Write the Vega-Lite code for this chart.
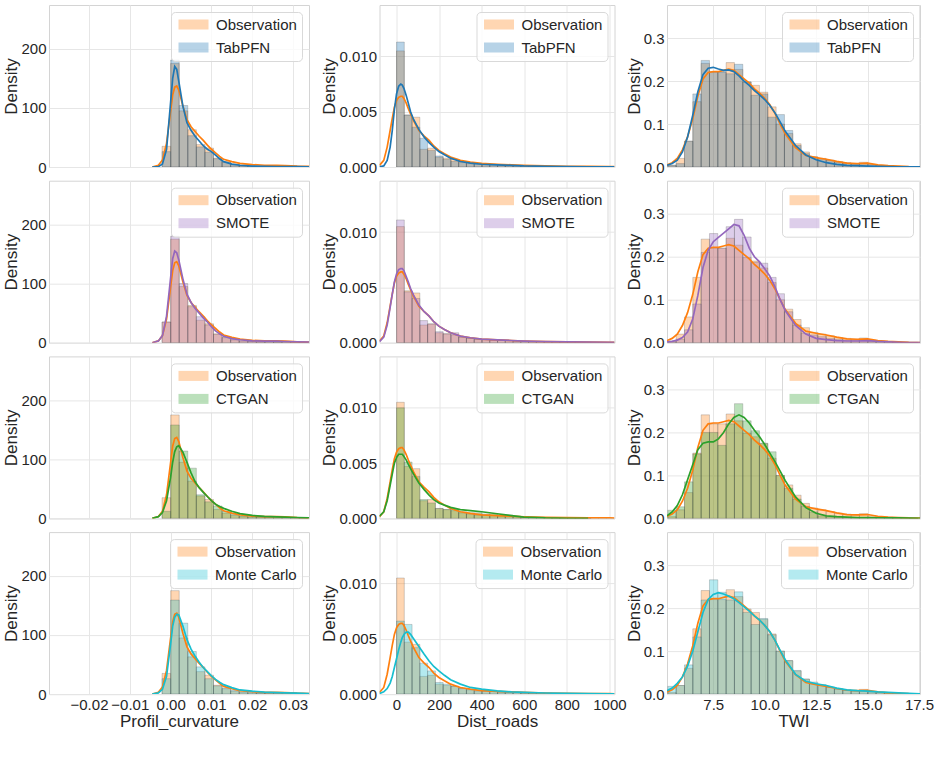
{
  "$schema": "https://vega.github.io/schema/vega-lite/v6.json",
  "padding": {"left": 2, "top": 4, "right": 0, "bottom": 0},
  "background": "white",
  "datasets": {
    "bins": [
      {"v":"curv","s":"Observation","a":-0.0021,"b":0,"d":35},
      {"v":"curv","s":"Observation","a":0,"b":0.0021,"d":175},
      {"v":"curv","s":"Observation","a":0.0021,"b":0.0042,"d":95},
      {"v":"curv","s":"Observation","a":0.0042,"b":0.0063,"d":63},
      {"v":"curv","s":"Observation","a":0.0063,"b":0.0084,"d":38},
      {"v":"curv","s":"Observation","a":0.0084,"b":0.0105,"d":32},
      {"v":"curv","s":"Observation","a":0.0105,"b":0.0126,"d":15},
      {"v":"curv","s":"Observation","a":0.0126,"b":0.0147,"d":9},
      {"v":"curv","s":"Observation","a":0.0147,"b":0.0168,"d":5},
      {"v":"curv","s":"Observation","a":0.0168,"b":0.0189,"d":3},
      {"v":"curv","s":"Observation","a":0.0189,"b":0.021,"d":2},
      {"v":"curv","s":"Observation","a":0.021,"b":0.0231,"d":1.5},
      {"v":"curv","s":"Observation","a":0.0231,"b":0.0252,"d":1.5},
      {"v":"curv","s":"Observation","a":0.0252,"b":0.0273,"d":1},
      {"v":"curv","s":"Observation","a":0.0273,"b":0.0294,"d":1.5},
      {"v":"curv","s":"Observation","a":0.0294,"b":0.0315,"d":1},
      {"v":"curv","s":"Observation","a":0.0315,"b":0.0336,"d":0.5},
      {"v":"curv","s":"TabPFN","a":-0.0021,"b":0,"d":26},
      {"v":"curv","s":"TabPFN","a":0,"b":0.0021,"d":181},
      {"v":"curv","s":"TabPFN","a":0.0021,"b":0.0042,"d":104},
      {"v":"curv","s":"TabPFN","a":0.0042,"b":0.0063,"d":53},
      {"v":"curv","s":"TabPFN","a":0.0063,"b":0.0084,"d":34},
      {"v":"curv","s":"TabPFN","a":0.0084,"b":0.0105,"d":25},
      {"v":"curv","s":"TabPFN","a":0.0105,"b":0.0126,"d":14},
      {"v":"curv","s":"TabPFN","a":0.0126,"b":0.0147,"d":8},
      {"v":"curv","s":"TabPFN","a":0.0147,"b":0.0168,"d":4},
      {"v":"curv","s":"TabPFN","a":0.0168,"b":0.0189,"d":2},
      {"v":"curv","s":"TabPFN","a":0.0189,"b":0.021,"d":1},
      {"v":"curv","s":"TabPFN","a":0.021,"b":0.0231,"d":0.5},
      {"v":"curv","s":"TabPFN","a":0.0231,"b":0.0252,"d":0.3},
      {"v":"curv","s":"TabPFN","a":0.0252,"b":0.0273,"d":0.2},
      {"v":"curv","s":"TabPFN","a":0.0273,"b":0.0294,"d":0.2},
      {"v":"curv","s":"TabPFN","a":0.0294,"b":0.0315,"d":0.1},
      {"v":"curv","s":"TabPFN","a":0.0315,"b":0.0336,"d":0.1},
      {"v":"curv","s":"SMOTE","a":-0.0021,"b":0,"d":35},
      {"v":"curv","s":"SMOTE","a":0,"b":0.0021,"d":180},
      {"v":"curv","s":"SMOTE","a":0.0021,"b":0.0042,"d":100},
      {"v":"curv","s":"SMOTE","a":0.0042,"b":0.0063,"d":61},
      {"v":"curv","s":"SMOTE","a":0.0063,"b":0.0084,"d":44},
      {"v":"curv","s":"SMOTE","a":0.0084,"b":0.0105,"d":30},
      {"v":"curv","s":"SMOTE","a":0.0105,"b":0.0126,"d":14},
      {"v":"curv","s":"SMOTE","a":0.0126,"b":0.0147,"d":8.5},
      {"v":"curv","s":"SMOTE","a":0.0147,"b":0.0168,"d":5},
      {"v":"curv","s":"SMOTE","a":0.0168,"b":0.0189,"d":3},
      {"v":"curv","s":"SMOTE","a":0.0189,"b":0.021,"d":2},
      {"v":"curv","s":"SMOTE","a":0.021,"b":0.0231,"d":1.5},
      {"v":"curv","s":"SMOTE","a":0.0231,"b":0.0252,"d":1.5},
      {"v":"curv","s":"SMOTE","a":0.0252,"b":0.0273,"d":1},
      {"v":"curv","s":"SMOTE","a":0.0273,"b":0.0294,"d":1.5},
      {"v":"curv","s":"SMOTE","a":0.0294,"b":0.0315,"d":1},
      {"v":"curv","s":"SMOTE","a":0.0315,"b":0.0336,"d":0.5},
      {"v":"curv","s":"CTGAN","a":-0.0021,"b":0,"d":12},
      {"v":"curv","s":"CTGAN","a":0,"b":0.0021,"d":158},
      {"v":"curv","s":"CTGAN","a":0.0021,"b":0.0042,"d":114},
      {"v":"curv","s":"CTGAN","a":0.0042,"b":0.0063,"d":85},
      {"v":"curv","s":"CTGAN","a":0.0063,"b":0.0084,"d":40},
      {"v":"curv","s":"CTGAN","a":0.0084,"b":0.0105,"d":28},
      {"v":"curv","s":"CTGAN","a":0.0105,"b":0.0126,"d":21},
      {"v":"curv","s":"CTGAN","a":0.0126,"b":0.0147,"d":12},
      {"v":"curv","s":"CTGAN","a":0.0147,"b":0.0168,"d":7},
      {"v":"curv","s":"CTGAN","a":0.0168,"b":0.0189,"d":4},
      {"v":"curv","s":"CTGAN","a":0.0189,"b":0.021,"d":3},
      {"v":"curv","s":"CTGAN","a":0.021,"b":0.0231,"d":2.5},
      {"v":"curv","s":"CTGAN","a":0.0231,"b":0.0252,"d":2},
      {"v":"curv","s":"CTGAN","a":0.0252,"b":0.0273,"d":1.5},
      {"v":"curv","s":"CTGAN","a":0.0273,"b":0.0294,"d":1},
      {"v":"curv","s":"CTGAN","a":0.0294,"b":0.0315,"d":1},
      {"v":"curv","s":"CTGAN","a":0.0315,"b":0.0336,"d":0.5},
      {"v":"curv","s":"Monte Carlo","a":-0.0021,"b":0,"d":26},
      {"v":"curv","s":"Monte Carlo","a":0,"b":0.0021,"d":159},
      {"v":"curv","s":"Monte Carlo","a":0.0021,"b":0.0042,"d":120},
      {"v":"curv","s":"Monte Carlo","a":0.0042,"b":0.0063,"d":72},
      {"v":"curv","s":"Monte Carlo","a":0.0063,"b":0.0084,"d":46},
      {"v":"curv","s":"Monte Carlo","a":0.0084,"b":0.0105,"d":26},
      {"v":"curv","s":"Monte Carlo","a":0.0105,"b":0.0126,"d":14},
      {"v":"curv","s":"Monte Carlo","a":0.0126,"b":0.0147,"d":10},
      {"v":"curv","s":"Monte Carlo","a":0.0147,"b":0.0168,"d":6},
      {"v":"curv","s":"Monte Carlo","a":0.0168,"b":0.0189,"d":4},
      {"v":"curv","s":"Monte Carlo","a":0.0189,"b":0.021,"d":3},
      {"v":"curv","s":"Monte Carlo","a":0.021,"b":0.0231,"d":2},
      {"v":"curv","s":"Monte Carlo","a":0.0231,"b":0.0252,"d":1.5},
      {"v":"curv","s":"Monte Carlo","a":0.0252,"b":0.0273,"d":1},
      {"v":"curv","s":"Monte Carlo","a":0.0273,"b":0.0294,"d":1},
      {"v":"curv","s":"Monte Carlo","a":0.0294,"b":0.0315,"d":1},
      {"v":"curv","s":"Monte Carlo","a":0.0315,"b":0.0336,"d":0.5},

      {"v":"road","s":"Observation","a":0,"b":36.5,"d":0.0105},
      {"v":"road","s":"Observation","a":36.5,"b":73,"d":0.0047},
      {"v":"road","s":"Observation","a":73,"b":109.5,"d":0.0045},
      {"v":"road","s":"Observation","a":109.5,"b":146,"d":0.0016},
      {"v":"road","s":"Observation","a":146,"b":182.5,"d":0.0017},
      {"v":"road","s":"Observation","a":182.5,"b":219,"d":0.0009},
      {"v":"road","s":"Observation","a":219,"b":255.5,"d":0.0008},
      {"v":"road","s":"Observation","a":255.5,"b":292,"d":0.0007},
      {"v":"road","s":"Observation","a":292,"b":328.5,"d":0.0005},
      {"v":"road","s":"Observation","a":328.5,"b":365,"d":0.0004},
      {"v":"road","s":"Observation","a":365,"b":401.5,"d":0.0003},
      {"v":"road","s":"Observation","a":401.5,"b":438,"d":0.0003},
      {"v":"road","s":"Observation","a":438,"b":474.5,"d":0.00025},
      {"v":"road","s":"Observation","a":474.5,"b":511,"d":0.0002},
      {"v":"road","s":"Observation","a":511,"b":547.5,"d":0.0002},
      {"v":"road","s":"Observation","a":547.5,"b":584,"d":0.00015},
      {"v":"road","s":"Observation","a":584,"b":620.5,"d":0.00012},
      {"v":"road","s":"Observation","a":620.5,"b":657,"d":0.0001},
      {"v":"road","s":"Observation","a":657,"b":693.5,"d":0.0001},
      {"v":"road","s":"Observation","a":693.5,"b":730,"d":0.00008},
      {"v":"road","s":"Observation","a":730,"b":766.5,"d":0.00006},
      {"v":"road","s":"Observation","a":766.5,"b":803,"d":0.00005},
      {"v":"road","s":"Observation","a":803,"b":839.5,"d":0.00004},
      {"v":"road","s":"Observation","a":839.5,"b":876,"d":0.00004},
      {"v":"road","s":"Observation","a":876,"b":912.5,"d":0.00003},
      {"v":"road","s":"Observation","a":912.5,"b":949,"d":0.00003},
      {"v":"road","s":"Observation","a":949,"b":985.5,"d":0.00002},
      {"v":"road","s":"Observation","a":985.5,"b":1022,"d":0.00002},
      {"v":"road","s":"TabPFN","a":0,"b":36.5,"d":0.0113},
      {"v":"road","s":"TabPFN","a":36.5,"b":73,"d":0.0047},
      {"v":"road","s":"TabPFN","a":73,"b":109.5,"d":0.0036},
      {"v":"road","s":"TabPFN","a":109.5,"b":146,"d":0.0026},
      {"v":"road","s":"TabPFN","a":146,"b":182.5,"d":0.0015},
      {"v":"road","s":"TabPFN","a":182.5,"b":219,"d":0.001},
      {"v":"road","s":"TabPFN","a":219,"b":255.5,"d":0.0007},
      {"v":"road","s":"TabPFN","a":255.5,"b":292,"d":0.0005},
      {"v":"road","s":"TabPFN","a":292,"b":328.5,"d":0.0004},
      {"v":"road","s":"TabPFN","a":328.5,"b":365,"d":0.0003},
      {"v":"road","s":"TabPFN","a":365,"b":401.5,"d":0.0003},
      {"v":"road","s":"TabPFN","a":401.5,"b":438,"d":0.00025},
      {"v":"road","s":"TabPFN","a":438,"b":474.5,"d":0.0002},
      {"v":"road","s":"TabPFN","a":474.5,"b":511,"d":0.00015},
      {"v":"road","s":"TabPFN","a":511,"b":547.5,"d":0.00012},
      {"v":"road","s":"TabPFN","a":547.5,"b":584,"d":0.0001},
      {"v":"road","s":"TabPFN","a":584,"b":620.5,"d":0.00008},
      {"v":"road","s":"TabPFN","a":620.5,"b":657,"d":0.00006},
      {"v":"road","s":"TabPFN","a":657,"b":693.5,"d":0.00005},
      {"v":"road","s":"TabPFN","a":693.5,"b":730,"d":0.00004},
      {"v":"road","s":"TabPFN","a":730,"b":766.5,"d":0.00003},
      {"v":"road","s":"TabPFN","a":766.5,"b":803,"d":0.00002},
      {"v":"road","s":"TabPFN","a":803,"b":839.5,"d":0.00002},
      {"v":"road","s":"TabPFN","a":839.5,"b":876,"d":0.00001},
      {"v":"road","s":"TabPFN","a":876,"b":912.5,"d":0.00001},
      {"v":"road","s":"TabPFN","a":912.5,"b":949,"d":0.00001},
      {"v":"road","s":"TabPFN","a":949,"b":985.5,"d":0.00001},
      {"v":"road","s":"SMOTE","a":0,"b":36.5,"d":0.0111},
      {"v":"road","s":"SMOTE","a":36.5,"b":73,"d":0.0046},
      {"v":"road","s":"SMOTE","a":73,"b":109.5,"d":0.004},
      {"v":"road","s":"SMOTE","a":109.5,"b":146,"d":0.002},
      {"v":"road","s":"SMOTE","a":146,"b":182.5,"d":0.0017},
      {"v":"road","s":"SMOTE","a":182.5,"b":219,"d":0.001},
      {"v":"road","s":"SMOTE","a":219,"b":255.5,"d":0.0008},
      {"v":"road","s":"SMOTE","a":255.5,"b":292,"d":0.0009},
      {"v":"road","s":"SMOTE","a":292,"b":328.5,"d":0.0005},
      {"v":"road","s":"SMOTE","a":328.5,"b":365,"d":0.0004},
      {"v":"road","s":"SMOTE","a":365,"b":401.5,"d":0.0003},
      {"v":"road","s":"SMOTE","a":401.5,"b":438,"d":0.0003},
      {"v":"road","s":"SMOTE","a":438,"b":474.5,"d":0.00025},
      {"v":"road","s":"SMOTE","a":474.5,"b":511,"d":0.0002},
      {"v":"road","s":"SMOTE","a":511,"b":547.5,"d":0.0002},
      {"v":"road","s":"SMOTE","a":547.5,"b":584,"d":0.00015},
      {"v":"road","s":"SMOTE","a":584,"b":620.5,"d":0.00012},
      {"v":"road","s":"SMOTE","a":620.5,"b":657,"d":0.0001},
      {"v":"road","s":"SMOTE","a":657,"b":693.5,"d":0.0001},
      {"v":"road","s":"SMOTE","a":693.5,"b":730,"d":0.00008},
      {"v":"road","s":"SMOTE","a":730,"b":766.5,"d":0.00006},
      {"v":"road","s":"SMOTE","a":766.5,"b":803,"d":0.00005},
      {"v":"road","s":"SMOTE","a":803,"b":839.5,"d":0.00004},
      {"v":"road","s":"SMOTE","a":839.5,"b":876,"d":0.00003},
      {"v":"road","s":"SMOTE","a":876,"b":912.5,"d":0.00003},
      {"v":"road","s":"SMOTE","a":912.5,"b":949,"d":0.00002},
      {"v":"road","s":"SMOTE","a":949,"b":985.5,"d":0.00002},
      {"v":"road","s":"SMOTE","a":985.5,"b":1022,"d":0.00001},
      {"v":"road","s":"CTGAN","a":0,"b":36.5,"d":0.01},
      {"v":"road","s":"CTGAN","a":36.5,"b":73,"d":0.0051},
      {"v":"road","s":"CTGAN","a":73,"b":109.5,"d":0.0038},
      {"v":"road","s":"CTGAN","a":109.5,"b":146,"d":0.0017},
      {"v":"road","s":"CTGAN","a":146,"b":182.5,"d":0.0014},
      {"v":"road","s":"CTGAN","a":182.5,"b":219,"d":0.0009},
      {"v":"road","s":"CTGAN","a":219,"b":255.5,"d":0.0008},
      {"v":"road","s":"CTGAN","a":255.5,"b":292,"d":0.0008},
      {"v":"road","s":"CTGAN","a":292,"b":328.5,"d":0.0006},
      {"v":"road","s":"CTGAN","a":328.5,"b":365,"d":0.0005},
      {"v":"road","s":"CTGAN","a":365,"b":401.5,"d":0.0005},
      {"v":"road","s":"CTGAN","a":401.5,"b":438,"d":0.0004},
      {"v":"road","s":"CTGAN","a":438,"b":474.5,"d":0.0004},
      {"v":"road","s":"CTGAN","a":474.5,"b":511,"d":0.0003},
      {"v":"road","s":"CTGAN","a":511,"b":547.5,"d":0.0003},
      {"v":"road","s":"CTGAN","a":547.5,"b":584,"d":0.0002},
      {"v":"road","s":"CTGAN","a":584,"b":620.5,"d":0.00015},
      {"v":"road","s":"CTGAN","a":620.5,"b":657,"d":0.0001},
      {"v":"road","s":"CTGAN","a":657,"b":693.5,"d":0.00008},
      {"v":"road","s":"CTGAN","a":693.5,"b":730,"d":0.00006},
      {"v":"road","s":"CTGAN","a":730,"b":766.5,"d":0.00004},
      {"v":"road","s":"CTGAN","a":766.5,"b":803,"d":0.00003},
      {"v":"road","s":"CTGAN","a":803,"b":839.5,"d":0.00002},
      {"v":"road","s":"CTGAN","a":839.5,"b":876,"d":0.00001},
      {"v":"road","s":"CTGAN","a":876,"b":912.5,"d":0.00001},
      {"v":"road","s":"Monte Carlo","a":0,"b":36.5,"d":0.0066},
      {"v":"road","s":"Monte Carlo","a":36.5,"b":73,"d":0.0063},
      {"v":"road","s":"Monte Carlo","a":73,"b":109.5,"d":0.0042},
      {"v":"road","s":"Monte Carlo","a":109.5,"b":146,"d":0.0028},
      {"v":"road","s":"Monte Carlo","a":146,"b":182.5,"d":0.0021},
      {"v":"road","s":"Monte Carlo","a":182.5,"b":219,"d":0.00105},
      {"v":"road","s":"Monte Carlo","a":219,"b":255.5,"d":0.0009},
      {"v":"road","s":"Monte Carlo","a":255.5,"b":292,"d":0.0007},
      {"v":"road","s":"Monte Carlo","a":292,"b":328.5,"d":0.0005},
      {"v":"road","s":"Monte Carlo","a":328.5,"b":365,"d":0.0004},
      {"v":"road","s":"Monte Carlo","a":365,"b":401.5,"d":0.0003},
      {"v":"road","s":"Monte Carlo","a":401.5,"b":438,"d":0.00028},
      {"v":"road","s":"Monte Carlo","a":438,"b":474.5,"d":0.00025},
      {"v":"road","s":"Monte Carlo","a":474.5,"b":511,"d":0.0002},
      {"v":"road","s":"Monte Carlo","a":511,"b":547.5,"d":0.00017},
      {"v":"road","s":"Monte Carlo","a":547.5,"b":584,"d":0.00015},
      {"v":"road","s":"Monte Carlo","a":584,"b":620.5,"d":0.00012},
      {"v":"road","s":"Monte Carlo","a":620.5,"b":657,"d":0.0001},
      {"v":"road","s":"Monte Carlo","a":657,"b":693.5,"d":0.00008},
      {"v":"road","s":"Monte Carlo","a":693.5,"b":730,"d":0.00007},
      {"v":"road","s":"Monte Carlo","a":730,"b":766.5,"d":0.00006},
      {"v":"road","s":"Monte Carlo","a":766.5,"b":803,"d":0.00005},
      {"v":"road","s":"Monte Carlo","a":803,"b":839.5,"d":0.00004},
      {"v":"road","s":"Monte Carlo","a":839.5,"b":876,"d":0.00003},
      {"v":"road","s":"Monte Carlo","a":876,"b":912.5,"d":0.00003},
      {"v":"road","s":"Monte Carlo","a":912.5,"b":949,"d":0.00002},
      {"v":"road","s":"Monte Carlo","a":949,"b":985.5,"d":0.00002},
      {"v":"road","s":"Monte Carlo","a":985.5,"b":1022,"d":0.00001},

      {"v":"twi","s":"Observation","a":5.29,"b":5.695,"d":0.004},
      {"v":"twi","s":"Observation","a":5.695,"b":6.1,"d":0.02},
      {"v":"twi","s":"Observation","a":6.1,"b":6.505,"d":0.06},
      {"v":"twi","s":"Observation","a":6.505,"b":6.91,"d":0.152},
      {"v":"twi","s":"Observation","a":6.91,"b":7.315,"d":0.241},
      {"v":"twi","s":"Observation","a":7.315,"b":7.72,"d":0.22},
      {"v":"twi","s":"Observation","a":7.72,"b":8.125,"d":0.22},
      {"v":"twi","s":"Observation","a":8.125,"b":8.53,"d":0.243},
      {"v":"twi","s":"Observation","a":8.53,"b":8.935,"d":0.227},
      {"v":"twi","s":"Observation","a":8.935,"b":9.34,"d":0.198},
      {"v":"twi","s":"Observation","a":9.34,"b":9.745,"d":0.19},
      {"v":"twi","s":"Observation","a":9.745,"b":10.15,"d":0.174},
      {"v":"twi","s":"Observation","a":10.15,"b":10.555,"d":0.14},
      {"v":"twi","s":"Observation","a":10.555,"b":10.96,"d":0.1},
      {"v":"twi","s":"Observation","a":10.96,"b":11.365,"d":0.078},
      {"v":"twi","s":"Observation","a":11.365,"b":11.77,"d":0.054},
      {"v":"twi","s":"Observation","a":11.77,"b":12.175,"d":0.035},
      {"v":"twi","s":"Observation","a":12.175,"b":12.58,"d":0.024},
      {"v":"twi","s":"Observation","a":12.58,"b":12.985,"d":0.02},
      {"v":"twi","s":"Observation","a":12.985,"b":13.39,"d":0.016},
      {"v":"twi","s":"Observation","a":13.39,"b":13.795,"d":0.012},
      {"v":"twi","s":"Observation","a":13.795,"b":14.2,"d":0.01},
      {"v":"twi","s":"Observation","a":14.2,"b":14.605,"d":0.008},
      {"v":"twi","s":"Observation","a":14.605,"b":15.01,"d":0.011},
      {"v":"twi","s":"Observation","a":15.01,"b":15.415,"d":0.006},
      {"v":"twi","s":"Observation","a":15.415,"b":15.82,"d":0.004},
      {"v":"twi","s":"Observation","a":15.82,"b":16.225,"d":0.003},
      {"v":"twi","s":"Observation","a":16.225,"b":16.63,"d":0.002},
      {"v":"twi","s":"Observation","a":16.63,"b":17.035,"d":0.0015},
      {"v":"twi","s":"Observation","a":17.035,"b":17.44,"d":0.001},
      {"v":"twi","s":"TabPFN","a":5.29,"b":5.695,"d":0.004},
      {"v":"twi","s":"TabPFN","a":5.695,"b":6.1,"d":0.008},
      {"v":"twi","s":"TabPFN","a":6.1,"b":6.505,"d":0.06},
      {"v":"twi","s":"TabPFN","a":6.505,"b":6.91,"d":0.17},
      {"v":"twi","s":"TabPFN","a":6.91,"b":7.315,"d":0.248},
      {"v":"twi","s":"TabPFN","a":7.315,"b":7.72,"d":0.222},
      {"v":"twi","s":"TabPFN","a":7.72,"b":8.125,"d":0.222},
      {"v":"twi","s":"TabPFN","a":8.125,"b":8.53,"d":0.217},
      {"v":"twi","s":"TabPFN","a":8.53,"b":8.935,"d":0.239},
      {"v":"twi","s":"TabPFN","a":8.935,"b":9.34,"d":0.198},
      {"v":"twi","s":"TabPFN","a":9.34,"b":9.745,"d":0.167},
      {"v":"twi","s":"TabPFN","a":9.745,"b":10.15,"d":0.17},
      {"v":"twi","s":"TabPFN","a":10.15,"b":10.555,"d":0.116},
      {"v":"twi","s":"TabPFN","a":10.555,"b":10.96,"d":0.122},
      {"v":"twi","s":"TabPFN","a":10.96,"b":11.365,"d":0.085},
      {"v":"twi","s":"TabPFN","a":11.365,"b":11.77,"d":0.05},
      {"v":"twi","s":"TabPFN","a":11.77,"b":12.175,"d":0.031},
      {"v":"twi","s":"TabPFN","a":12.175,"b":12.58,"d":0.023},
      {"v":"twi","s":"TabPFN","a":12.58,"b":12.985,"d":0.018},
      {"v":"twi","s":"TabPFN","a":12.985,"b":13.39,"d":0.015},
      {"v":"twi","s":"TabPFN","a":13.39,"b":13.795,"d":0.012},
      {"v":"twi","s":"TabPFN","a":13.795,"b":14.2,"d":0.009},
      {"v":"twi","s":"TabPFN","a":14.2,"b":14.605,"d":0.007},
      {"v":"twi","s":"TabPFN","a":14.605,"b":15.01,"d":0.008},
      {"v":"twi","s":"TabPFN","a":15.01,"b":15.415,"d":0.005},
      {"v":"twi","s":"TabPFN","a":15.415,"b":15.82,"d":0.003},
      {"v":"twi","s":"TabPFN","a":15.82,"b":16.225,"d":0.002},
      {"v":"twi","s":"TabPFN","a":16.225,"b":16.63,"d":0.001},
      {"v":"twi","s":"TabPFN","a":16.63,"b":17.035,"d":0.0008},
      {"v":"twi","s":"TabPFN","a":17.035,"b":17.44,"d":0.0005},
      {"v":"twi","s":"SMOTE","a":5.29,"b":5.695,"d":0.002},
      {"v":"twi","s":"SMOTE","a":5.695,"b":6.1,"d":0.008},
      {"v":"twi","s":"SMOTE","a":6.1,"b":6.505,"d":0.03},
      {"v":"twi","s":"SMOTE","a":6.505,"b":6.91,"d":0.09},
      {"v":"twi","s":"SMOTE","a":6.91,"b":7.315,"d":0.21},
      {"v":"twi","s":"SMOTE","a":7.315,"b":7.72,"d":0.254},
      {"v":"twi","s":"SMOTE","a":7.72,"b":8.125,"d":0.22},
      {"v":"twi","s":"SMOTE","a":8.125,"b":8.53,"d":0.27},
      {"v":"twi","s":"SMOTE","a":8.53,"b":8.935,"d":0.287},
      {"v":"twi","s":"SMOTE","a":8.935,"b":9.34,"d":0.246},
      {"v":"twi","s":"SMOTE","a":9.34,"b":9.745,"d":0.187},
      {"v":"twi","s":"SMOTE","a":9.745,"b":10.15,"d":0.185},
      {"v":"twi","s":"SMOTE","a":10.15,"b":10.555,"d":0.152},
      {"v":"twi","s":"SMOTE","a":10.555,"b":10.96,"d":0.114},
      {"v":"twi","s":"SMOTE","a":10.96,"b":11.365,"d":0.072},
      {"v":"twi","s":"SMOTE","a":11.365,"b":11.77,"d":0.041},
      {"v":"twi","s":"SMOTE","a":11.77,"b":12.175,"d":0.022},
      {"v":"twi","s":"SMOTE","a":12.175,"b":12.58,"d":0.018},
      {"v":"twi","s":"SMOTE","a":12.58,"b":12.985,"d":0.014},
      {"v":"twi","s":"SMOTE","a":12.985,"b":13.39,"d":0.01},
      {"v":"twi","s":"SMOTE","a":13.39,"b":13.795,"d":0.008},
      {"v":"twi","s":"SMOTE","a":13.795,"b":14.2,"d":0.006},
      {"v":"twi","s":"SMOTE","a":14.2,"b":14.605,"d":0.005},
      {"v":"twi","s":"SMOTE","a":14.605,"b":15.01,"d":0.006},
      {"v":"twi","s":"SMOTE","a":15.01,"b":15.415,"d":0.003},
      {"v":"twi","s":"SMOTE","a":15.415,"b":15.82,"d":0.002},
      {"v":"twi","s":"SMOTE","a":15.82,"b":16.225,"d":0.001},
      {"v":"twi","s":"SMOTE","a":16.225,"b":16.63,"d":0.001},
      {"v":"twi","s":"SMOTE","a":16.63,"b":17.035,"d":0.0005},
      {"v":"twi","s":"SMOTE","a":17.035,"b":17.44,"d":0.0003},
      {"v":"twi","s":"CTGAN","a":5.29,"b":5.695,"d":0.019},
      {"v":"twi","s":"CTGAN","a":5.695,"b":6.1,"d":0.027},
      {"v":"twi","s":"CTGAN","a":6.1,"b":6.505,"d":0.085},
      {"v":"twi","s":"CTGAN","a":6.505,"b":6.91,"d":0.15},
      {"v":"twi","s":"CTGAN","a":6.91,"b":7.315,"d":0.2},
      {"v":"twi","s":"CTGAN","a":7.315,"b":7.72,"d":0.2},
      {"v":"twi","s":"CTGAN","a":7.72,"b":8.125,"d":0.17},
      {"v":"twi","s":"CTGAN","a":8.125,"b":8.53,"d":0.22},
      {"v":"twi","s":"CTGAN","a":8.53,"b":8.935,"d":0.267},
      {"v":"twi","s":"CTGAN","a":8.935,"b":9.34,"d":0.227},
      {"v":"twi","s":"CTGAN","a":9.34,"b":9.745,"d":0.204},
      {"v":"twi","s":"CTGAN","a":9.745,"b":10.15,"d":0.175},
      {"v":"twi","s":"CTGAN","a":10.15,"b":10.555,"d":0.155},
      {"v":"twi","s":"CTGAN","a":10.555,"b":10.96,"d":0.1},
      {"v":"twi","s":"CTGAN","a":10.96,"b":11.365,"d":0.07},
      {"v":"twi","s":"CTGAN","a":11.365,"b":11.77,"d":0.045},
      {"v":"twi","s":"CTGAN","a":11.77,"b":12.175,"d":0.028},
      {"v":"twi","s":"CTGAN","a":12.175,"b":12.58,"d":0.015},
      {"v":"twi","s":"CTGAN","a":12.58,"b":12.985,"d":0.006},
      {"v":"twi","s":"CTGAN","a":12.985,"b":13.39,"d":0.004},
      {"v":"twi","s":"CTGAN","a":13.39,"b":13.795,"d":0.003},
      {"v":"twi","s":"CTGAN","a":13.795,"b":14.2,"d":0.002},
      {"v":"twi","s":"CTGAN","a":14.2,"b":14.605,"d":0.002},
      {"v":"twi","s":"CTGAN","a":14.605,"b":15.01,"d":0.002},
      {"v":"twi","s":"CTGAN","a":15.01,"b":15.415,"d":0.002},
      {"v":"twi","s":"CTGAN","a":15.415,"b":15.82,"d":0.0015},
      {"v":"twi","s":"CTGAN","a":15.82,"b":16.225,"d":0.001},
      {"v":"twi","s":"CTGAN","a":16.225,"b":16.63,"d":0.001},
      {"v":"twi","s":"CTGAN","a":16.63,"b":17.035,"d":0.0005},
      {"v":"twi","s":"CTGAN","a":17.035,"b":17.44,"d":0.0003},
      {"v":"twi","s":"Monte Carlo","a":5.29,"b":5.695,"d":0.018},
      {"v":"twi","s":"Monte Carlo","a":5.695,"b":6.1,"d":0.02},
      {"v":"twi","s":"Monte Carlo","a":6.1,"b":6.505,"d":0.068},
      {"v":"twi","s":"Monte Carlo","a":6.505,"b":6.91,"d":0.133},
      {"v":"twi","s":"Monte Carlo","a":6.91,"b":7.315,"d":0.219},
      {"v":"twi","s":"Monte Carlo","a":7.315,"b":7.72,"d":0.266},
      {"v":"twi","s":"Monte Carlo","a":7.72,"b":8.125,"d":0.237},
      {"v":"twi","s":"Monte Carlo","a":8.125,"b":8.53,"d":0.219},
      {"v":"twi","s":"Monte Carlo","a":8.53,"b":8.935,"d":0.238},
      {"v":"twi","s":"Monte Carlo","a":8.935,"b":9.34,"d":0.19},
      {"v":"twi","s":"Monte Carlo","a":9.34,"b":9.745,"d":0.162},
      {"v":"twi","s":"Monte Carlo","a":9.745,"b":10.15,"d":0.176},
      {"v":"twi","s":"Monte Carlo","a":10.15,"b":10.555,"d":0.138},
      {"v":"twi","s":"Monte Carlo","a":10.555,"b":10.96,"d":0.1},
      {"v":"twi","s":"Monte Carlo","a":10.96,"b":11.365,"d":0.078},
      {"v":"twi","s":"Monte Carlo","a":11.365,"b":11.77,"d":0.055},
      {"v":"twi","s":"Monte Carlo","a":11.77,"b":12.175,"d":0.035},
      {"v":"twi","s":"Monte Carlo","a":12.175,"b":12.58,"d":0.028},
      {"v":"twi","s":"Monte Carlo","a":12.58,"b":12.985,"d":0.022},
      {"v":"twi","s":"Monte Carlo","a":12.985,"b":13.39,"d":0.016},
      {"v":"twi","s":"Monte Carlo","a":13.39,"b":13.795,"d":0.012},
      {"v":"twi","s":"Monte Carlo","a":13.795,"b":14.2,"d":0.009},
      {"v":"twi","s":"Monte Carlo","a":14.2,"b":14.605,"d":0.007},
      {"v":"twi","s":"Monte Carlo","a":14.605,"b":15.01,"d":0.006},
      {"v":"twi","s":"Monte Carlo","a":15.01,"b":15.415,"d":0.005},
      {"v":"twi","s":"Monte Carlo","a":15.415,"b":15.82,"d":0.004},
      {"v":"twi","s":"Monte Carlo","a":15.82,"b":16.225,"d":0.003},
      {"v":"twi","s":"Monte Carlo","a":16.225,"b":16.63,"d":0.002},
      {"v":"twi","s":"Monte Carlo","a":16.63,"b":17.035,"d":0.0015},
      {"v":"twi","s":"Monte Carlo","a":17.035,"b":17.44,"d":0.001}
    ],
    "kde": [
      {"v":"curv","s":"Observation","x":-0.0045,"d":0},
      {"v":"curv","s":"Observation","x":-0.003,"d":3},
      {"v":"curv","s":"Observation","x":-0.002,"d":12},
      {"v":"curv","s":"Observation","x":-0.001,"d":40},
      {"v":"curv","s":"Observation","x":0,"d":95},
      {"v":"curv","s":"Observation","x":0.0005,"d":122},
      {"v":"curv","s":"Observation","x":0.001,"d":135},
      {"v":"curv","s":"Observation","x":0.0015,"d":137},
      {"v":"curv","s":"Observation","x":0.002,"d":130},
      {"v":"curv","s":"Observation","x":0.003,"d":103},
      {"v":"curv","s":"Observation","x":0.004,"d":80},
      {"v":"curv","s":"Observation","x":0.005,"d":68},
      {"v":"curv","s":"Observation","x":0.006,"d":60},
      {"v":"curv","s":"Observation","x":0.007,"d":52},
      {"v":"curv","s":"Observation","x":0.008,"d":45},
      {"v":"curv","s":"Observation","x":0.009,"d":37},
      {"v":"curv","s":"Observation","x":0.01,"d":30},
      {"v":"curv","s":"Observation","x":0.011,"d":24},
      {"v":"curv","s":"Observation","x":0.012,"d":18},
      {"v":"curv","s":"Observation","x":0.013,"d":13},
      {"v":"curv","s":"Observation","x":0.015,"d":9},
      {"v":"curv","s":"Observation","x":0.017,"d":6},
      {"v":"curv","s":"Observation","x":0.02,"d":4},
      {"v":"curv","s":"Observation","x":0.023,"d":3},
      {"v":"curv","s":"Observation","x":0.026,"d":3},
      {"v":"curv","s":"Observation","x":0.028,"d":2.5},
      {"v":"curv","s":"Observation","x":0.031,"d":1.5},
      {"v":"curv","s":"Observation","x":0.034,"d":1},
      {"v":"curv","s":"TabPFN","x":-0.0045,"d":0},
      {"v":"curv","s":"TabPFN","x":-0.003,"d":0.5},
      {"v":"curv","s":"TabPFN","x":-0.002,"d":5},
      {"v":"curv","s":"TabPFN","x":-0.001,"d":30},
      {"v":"curv","s":"TabPFN","x":0,"d":110},
      {"v":"curv","s":"TabPFN","x":0.0005,"d":150},
      {"v":"curv","s":"TabPFN","x":0.001,"d":170},
      {"v":"curv","s":"TabPFN","x":0.0015,"d":165},
      {"v":"curv","s":"TabPFN","x":0.002,"d":145},
      {"v":"curv","s":"TabPFN","x":0.003,"d":103},
      {"v":"curv","s":"TabPFN","x":0.004,"d":75},
      {"v":"curv","s":"TabPFN","x":0.005,"d":62},
      {"v":"curv","s":"TabPFN","x":0.006,"d":52},
      {"v":"curv","s":"TabPFN","x":0.007,"d":44},
      {"v":"curv","s":"TabPFN","x":0.008,"d":36},
      {"v":"curv","s":"TabPFN","x":0.009,"d":30},
      {"v":"curv","s":"TabPFN","x":0.01,"d":26},
      {"v":"curv","s":"TabPFN","x":0.011,"d":20},
      {"v":"curv","s":"TabPFN","x":0.012,"d":14},
      {"v":"curv","s":"TabPFN","x":0.013,"d":9},
      {"v":"curv","s":"TabPFN","x":0.015,"d":5},
      {"v":"curv","s":"TabPFN","x":0.017,"d":3},
      {"v":"curv","s":"TabPFN","x":0.02,"d":1.5},
      {"v":"curv","s":"TabPFN","x":0.023,"d":1},
      {"v":"curv","s":"TabPFN","x":0.026,"d":0.7},
      {"v":"curv","s":"TabPFN","x":0.028,"d":0.5},
      {"v":"curv","s":"TabPFN","x":0.031,"d":0.5},
      {"v":"curv","s":"TabPFN","x":0.034,"d":0.3},
      {"v":"curv","s":"SMOTE","x":-0.0045,"d":0},
      {"v":"curv","s":"SMOTE","x":-0.003,"d":3},
      {"v":"curv","s":"SMOTE","x":-0.002,"d":12},
      {"v":"curv","s":"SMOTE","x":-0.001,"d":45},
      {"v":"curv","s":"SMOTE","x":0,"d":110},
      {"v":"curv","s":"SMOTE","x":0.0005,"d":142},
      {"v":"curv","s":"SMOTE","x":0.001,"d":155},
      {"v":"curv","s":"SMOTE","x":0.0015,"d":152},
      {"v":"curv","s":"SMOTE","x":0.002,"d":140},
      {"v":"curv","s":"SMOTE","x":0.003,"d":108},
      {"v":"curv","s":"SMOTE","x":0.004,"d":82},
      {"v":"curv","s":"SMOTE","x":0.005,"d":68},
      {"v":"curv","s":"SMOTE","x":0.006,"d":58},
      {"v":"curv","s":"SMOTE","x":0.007,"d":50},
      {"v":"curv","s":"SMOTE","x":0.008,"d":42},
      {"v":"curv","s":"SMOTE","x":0.009,"d":35},
      {"v":"curv","s":"SMOTE","x":0.01,"d":27},
      {"v":"curv","s":"SMOTE","x":0.011,"d":20},
      {"v":"curv","s":"SMOTE","x":0.012,"d":15},
      {"v":"curv","s":"SMOTE","x":0.013,"d":11},
      {"v":"curv","s":"SMOTE","x":0.015,"d":7},
      {"v":"curv","s":"SMOTE","x":0.017,"d":5},
      {"v":"curv","s":"SMOTE","x":0.02,"d":3},
      {"v":"curv","s":"SMOTE","x":0.023,"d":2.5},
      {"v":"curv","s":"SMOTE","x":0.026,"d":2.5},
      {"v":"curv","s":"SMOTE","x":0.028,"d":2},
      {"v":"curv","s":"SMOTE","x":0.031,"d":1.5},
      {"v":"curv","s":"SMOTE","x":0.034,"d":1},
      {"v":"curv","s":"CTGAN","x":-0.0045,"d":0},
      {"v":"curv","s":"CTGAN","x":-0.003,"d":3},
      {"v":"curv","s":"CTGAN","x":-0.002,"d":10},
      {"v":"curv","s":"CTGAN","x":-0.001,"d":30},
      {"v":"curv","s":"CTGAN","x":0,"d":70},
      {"v":"curv","s":"CTGAN","x":0.0005,"d":95},
      {"v":"curv","s":"CTGAN","x":0.001,"d":113},
      {"v":"curv","s":"CTGAN","x":0.0015,"d":121},
      {"v":"curv","s":"CTGAN","x":0.002,"d":123},
      {"v":"curv","s":"CTGAN","x":0.003,"d":112},
      {"v":"curv","s":"CTGAN","x":0.004,"d":95},
      {"v":"curv","s":"CTGAN","x":0.005,"d":77},
      {"v":"curv","s":"CTGAN","x":0.006,"d":62},
      {"v":"curv","s":"CTGAN","x":0.007,"d":52},
      {"v":"curv","s":"CTGAN","x":0.008,"d":44},
      {"v":"curv","s":"CTGAN","x":0.009,"d":37},
      {"v":"curv","s":"CTGAN","x":0.01,"d":30},
      {"v":"curv","s":"CTGAN","x":0.011,"d":24},
      {"v":"curv","s":"CTGAN","x":0.012,"d":20},
      {"v":"curv","s":"CTGAN","x":0.013,"d":17},
      {"v":"curv","s":"CTGAN","x":0.015,"d":12},
      {"v":"curv","s":"CTGAN","x":0.017,"d":8},
      {"v":"curv","s":"CTGAN","x":0.02,"d":5},
      {"v":"curv","s":"CTGAN","x":0.023,"d":3.5},
      {"v":"curv","s":"CTGAN","x":0.026,"d":2.5},
      {"v":"curv","s":"CTGAN","x":0.028,"d":2},
      {"v":"curv","s":"CTGAN","x":0.031,"d":1.5},
      {"v":"curv","s":"CTGAN","x":0.034,"d":1},
      {"v":"curv","s":"Monte Carlo","x":-0.0045,"d":0},
      {"v":"curv","s":"Monte Carlo","x":-0.003,"d":2},
      {"v":"curv","s":"Monte Carlo","x":-0.002,"d":8},
      {"v":"curv","s":"Monte Carlo","x":-0.001,"d":30},
      {"v":"curv","s":"Monte Carlo","x":0,"d":85},
      {"v":"curv","s":"Monte Carlo","x":0.0005,"d":115},
      {"v":"curv","s":"Monte Carlo","x":0.001,"d":130},
      {"v":"curv","s":"Monte Carlo","x":0.0015,"d":135},
      {"v":"curv","s":"Monte Carlo","x":0.002,"d":134},
      {"v":"curv","s":"Monte Carlo","x":0.003,"d":115},
      {"v":"curv","s":"Monte Carlo","x":0.004,"d":92},
      {"v":"curv","s":"Monte Carlo","x":0.005,"d":76},
      {"v":"curv","s":"Monte Carlo","x":0.006,"d":64},
      {"v":"curv","s":"Monte Carlo","x":0.007,"d":54},
      {"v":"curv","s":"Monte Carlo","x":0.008,"d":45},
      {"v":"curv","s":"Monte Carlo","x":0.009,"d":38},
      {"v":"curv","s":"Monte Carlo","x":0.01,"d":31},
      {"v":"curv","s":"Monte Carlo","x":0.011,"d":25},
      {"v":"curv","s":"Monte Carlo","x":0.012,"d":20},
      {"v":"curv","s":"Monte Carlo","x":0.013,"d":16},
      {"v":"curv","s":"Monte Carlo","x":0.015,"d":11},
      {"v":"curv","s":"Monte Carlo","x":0.017,"d":7},
      {"v":"curv","s":"Monte Carlo","x":0.02,"d":5},
      {"v":"curv","s":"Monte Carlo","x":0.023,"d":3.5},
      {"v":"curv","s":"Monte Carlo","x":0.026,"d":2.5},
      {"v":"curv","s":"Monte Carlo","x":0.028,"d":2},
      {"v":"curv","s":"Monte Carlo","x":0.031,"d":1.5},
      {"v":"curv","s":"Monte Carlo","x":0.034,"d":1},

      {"v":"road","s":"Observation","x":-80,"d":0.00015},
      {"v":"road","s":"Observation","x":-60,"d":0.0006},
      {"v":"road","s":"Observation","x":-44,"d":0.0018},
      {"v":"road","s":"Observation","x":-30,"d":0.0033},
      {"v":"road","s":"Observation","x":-20,"d":0.0044},
      {"v":"road","s":"Observation","x":-10,"d":0.0054},
      {"v":"road","s":"Observation","x":0,"d":0.006},
      {"v":"road","s":"Observation","x":10,"d":0.0063},
      {"v":"road","s":"Observation","x":20,"d":0.0064},
      {"v":"road","s":"Observation","x":27,"d":0.0064},
      {"v":"road","s":"Observation","x":35,"d":0.0062},
      {"v":"road","s":"Observation","x":45,"d":0.0058},
      {"v":"road","s":"Observation","x":55,"d":0.0053},
      {"v":"road","s":"Observation","x":66,"d":0.0048},
      {"v":"road","s":"Observation","x":80,"d":0.0042},
      {"v":"road","s":"Observation","x":105,"d":0.0033},
      {"v":"road","s":"Observation","x":130,"d":0.0028},
      {"v":"road","s":"Observation","x":153,"d":0.0024},
      {"v":"road","s":"Observation","x":175,"d":0.0019},
      {"v":"road","s":"Observation","x":199,"d":0.0015},
      {"v":"road","s":"Observation","x":225,"d":0.0012},
      {"v":"road","s":"Observation","x":254,"d":0.0009},
      {"v":"road","s":"Observation","x":300,"d":0.0006},
      {"v":"road","s":"Observation","x":347,"d":0.00045},
      {"v":"road","s":"Observation","x":400,"d":0.00032},
      {"v":"road","s":"Observation","x":473,"d":0.00025},
      {"v":"road","s":"Observation","x":540,"d":0.0002},
      {"v":"road","s":"Observation","x":598,"d":0.00015},
      {"v":"road","s":"Observation","x":700,"d":0.0001},
      {"v":"road","s":"Observation","x":800,"d":0.00007},
      {"v":"road","s":"Observation","x":900,"d":0.00005},
      {"v":"road","s":"Observation","x":1000,"d":0.00004},
      {"v":"road","s":"Observation","x":1024,"d":0.00003},
      {"v":"road","s":"TabPFN","x":-80,"d":0.00002},
      {"v":"road","s":"TabPFN","x":-60,"d":0.0001},
      {"v":"road","s":"TabPFN","x":-44,"d":0.0006},
      {"v":"road","s":"TabPFN","x":-30,"d":0.0018},
      {"v":"road","s":"TabPFN","x":-20,"d":0.0033},
      {"v":"road","s":"TabPFN","x":-10,"d":0.0052},
      {"v":"road","s":"TabPFN","x":0,"d":0.0066},
      {"v":"road","s":"TabPFN","x":10,"d":0.0073},
      {"v":"road","s":"TabPFN","x":20,"d":0.0075},
      {"v":"road","s":"TabPFN","x":27,"d":0.0074},
      {"v":"road","s":"TabPFN","x":35,"d":0.0071},
      {"v":"road","s":"TabPFN","x":45,"d":0.0065},
      {"v":"road","s":"TabPFN","x":55,"d":0.0058},
      {"v":"road","s":"TabPFN","x":66,"d":0.005},
      {"v":"road","s":"TabPFN","x":80,"d":0.0043},
      {"v":"road","s":"TabPFN","x":105,"d":0.0034},
      {"v":"road","s":"TabPFN","x":130,"d":0.0027},
      {"v":"road","s":"TabPFN","x":153,"d":0.0022},
      {"v":"road","s":"TabPFN","x":175,"d":0.0018},
      {"v":"road","s":"TabPFN","x":199,"d":0.0014},
      {"v":"road","s":"TabPFN","x":225,"d":0.0011},
      {"v":"road","s":"TabPFN","x":254,"d":0.0008},
      {"v":"road","s":"TabPFN","x":300,"d":0.0005},
      {"v":"road","s":"TabPFN","x":347,"d":0.00035},
      {"v":"road","s":"TabPFN","x":400,"d":0.00025},
      {"v":"road","s":"TabPFN","x":473,"d":0.0002},
      {"v":"road","s":"TabPFN","x":540,"d":0.00015},
      {"v":"road","s":"TabPFN","x":598,"d":0.0001},
      {"v":"road","s":"TabPFN","x":700,"d":0.00006},
      {"v":"road","s":"TabPFN","x":800,"d":0.00004},
      {"v":"road","s":"TabPFN","x":900,"d":0.00002},
      {"v":"road","s":"TabPFN","x":1000,"d":0.00001},
      {"v":"road","s":"TabPFN","x":1024,"d":0.00001},
      {"v":"road","s":"SMOTE","x":-80,"d":0.0001},
      {"v":"road","s":"SMOTE","x":-60,"d":0.0005},
      {"v":"road","s":"SMOTE","x":-44,"d":0.0016},
      {"v":"road","s":"SMOTE","x":-30,"d":0.0032},
      {"v":"road","s":"SMOTE","x":-20,"d":0.0044},
      {"v":"road","s":"SMOTE","x":-10,"d":0.0055},
      {"v":"road","s":"SMOTE","x":0,"d":0.0062},
      {"v":"road","s":"SMOTE","x":10,"d":0.0066},
      {"v":"road","s":"SMOTE","x":20,"d":0.0067},
      {"v":"road","s":"SMOTE","x":27,"d":0.0067},
      {"v":"road","s":"SMOTE","x":35,"d":0.0065},
      {"v":"road","s":"SMOTE","x":45,"d":0.006},
      {"v":"road","s":"SMOTE","x":55,"d":0.0055},
      {"v":"road","s":"SMOTE","x":66,"d":0.0049},
      {"v":"road","s":"SMOTE","x":80,"d":0.0043},
      {"v":"road","s":"SMOTE","x":105,"d":0.0034},
      {"v":"road","s":"SMOTE","x":130,"d":0.0028},
      {"v":"road","s":"SMOTE","x":153,"d":0.0024},
      {"v":"road","s":"SMOTE","x":175,"d":0.0019},
      {"v":"road","s":"SMOTE","x":199,"d":0.0015},
      {"v":"road","s":"SMOTE","x":225,"d":0.0012},
      {"v":"road","s":"SMOTE","x":254,"d":0.0009},
      {"v":"road","s":"SMOTE","x":300,"d":0.0006},
      {"v":"road","s":"SMOTE","x":347,"d":0.00045},
      {"v":"road","s":"SMOTE","x":400,"d":0.00033},
      {"v":"road","s":"SMOTE","x":473,"d":0.00026},
      {"v":"road","s":"SMOTE","x":540,"d":0.0002},
      {"v":"road","s":"SMOTE","x":598,"d":0.00015},
      {"v":"road","s":"SMOTE","x":700,"d":0.0001},
      {"v":"road","s":"SMOTE","x":800,"d":0.00007},
      {"v":"road","s":"SMOTE","x":900,"d":0.00005},
      {"v":"road","s":"SMOTE","x":1000,"d":0.00004},
      {"v":"road","s":"SMOTE","x":1024,"d":0.00003},
      {"v":"road","s":"CTGAN","x":-80,"d":0.0002},
      {"v":"road","s":"CTGAN","x":-60,"d":0.0006},
      {"v":"road","s":"CTGAN","x":-44,"d":0.0016},
      {"v":"road","s":"CTGAN","x":-30,"d":0.003},
      {"v":"road","s":"CTGAN","x":-20,"d":0.004},
      {"v":"road","s":"CTGAN","x":-10,"d":0.005},
      {"v":"road","s":"CTGAN","x":0,"d":0.0055},
      {"v":"road","s":"CTGAN","x":10,"d":0.0058},
      {"v":"road","s":"CTGAN","x":20,"d":0.0058},
      {"v":"road","s":"CTGAN","x":27,"d":0.0058},
      {"v":"road","s":"CTGAN","x":35,"d":0.0056},
      {"v":"road","s":"CTGAN","x":45,"d":0.0053},
      {"v":"road","s":"CTGAN","x":55,"d":0.0049},
      {"v":"road","s":"CTGAN","x":66,"d":0.0045},
      {"v":"road","s":"CTGAN","x":80,"d":0.004},
      {"v":"road","s":"CTGAN","x":105,"d":0.0032},
      {"v":"road","s":"CTGAN","x":130,"d":0.0026},
      {"v":"road","s":"CTGAN","x":153,"d":0.0021},
      {"v":"road","s":"CTGAN","x":175,"d":0.0017},
      {"v":"road","s":"CTGAN","x":199,"d":0.0014},
      {"v":"road","s":"CTGAN","x":225,"d":0.0012},
      {"v":"road","s":"CTGAN","x":254,"d":0.001},
      {"v":"road","s":"CTGAN","x":300,"d":0.0008},
      {"v":"road","s":"CTGAN","x":347,"d":0.0007},
      {"v":"road","s":"CTGAN","x":400,"d":0.0006},
      {"v":"road","s":"CTGAN","x":473,"d":0.00042},
      {"v":"road","s":"CTGAN","x":540,"d":0.00025},
      {"v":"road","s":"CTGAN","x":598,"d":0.00012},
      {"v":"road","s":"CTGAN","x":700,"d":0.00004},
      {"v":"road","s":"CTGAN","x":800,"d":0.00001},
      {"v":"road","s":"CTGAN","x":900,"d":0},
      {"v":"road","s":"Monte Carlo","x":-80,"d":0.00005},
      {"v":"road","s":"Monte Carlo","x":-60,"d":0.0002},
      {"v":"road","s":"Monte Carlo","x":-44,"d":0.0005},
      {"v":"road","s":"Monte Carlo","x":-30,"d":0.001},
      {"v":"road","s":"Monte Carlo","x":-20,"d":0.0016},
      {"v":"road","s":"Monte Carlo","x":-10,"d":0.0024},
      {"v":"road","s":"Monte Carlo","x":0,"d":0.0032},
      {"v":"road","s":"Monte Carlo","x":10,"d":0.004},
      {"v":"road","s":"Monte Carlo","x":20,"d":0.0047},
      {"v":"road","s":"Monte Carlo","x":27,"d":0.0051},
      {"v":"road","s":"Monte Carlo","x":35,"d":0.0054},
      {"v":"road","s":"Monte Carlo","x":45,"d":0.0056},
      {"v":"road","s":"Monte Carlo","x":55,"d":0.0056},
      {"v":"road","s":"Monte Carlo","x":66,"d":0.0054},
      {"v":"road","s":"Monte Carlo","x":80,"d":0.005},
      {"v":"road","s":"Monte Carlo","x":105,"d":0.0043},
      {"v":"road","s":"Monte Carlo","x":130,"d":0.0036},
      {"v":"road","s":"Monte Carlo","x":153,"d":0.003},
      {"v":"road","s":"Monte Carlo","x":175,"d":0.0025},
      {"v":"road","s":"Monte Carlo","x":199,"d":0.0021},
      {"v":"road","s":"Monte Carlo","x":225,"d":0.0017},
      {"v":"road","s":"Monte Carlo","x":254,"d":0.0013},
      {"v":"road","s":"Monte Carlo","x":300,"d":0.0009},
      {"v":"road","s":"Monte Carlo","x":347,"d":0.0006},
      {"v":"road","s":"Monte Carlo","x":400,"d":0.00045},
      {"v":"road","s":"Monte Carlo","x":473,"d":0.0003},
      {"v":"road","s":"Monte Carlo","x":540,"d":0.0002},
      {"v":"road","s":"Monte Carlo","x":598,"d":0.00015},
      {"v":"road","s":"Monte Carlo","x":700,"d":0.0001},
      {"v":"road","s":"Monte Carlo","x":800,"d":0.00006},
      {"v":"road","s":"Monte Carlo","x":900,"d":0.00004},
      {"v":"road","s":"Monte Carlo","x":1000,"d":0.00003},
      {"v":"road","s":"Monte Carlo","x":1024,"d":0.00002},

      {"v":"twi","s":"Observation","x":5.25,"d":0.005},
      {"v":"twi","s":"Observation","x":5.5,"d":0.01},
      {"v":"twi","s":"Observation","x":5.75,"d":0.02},
      {"v":"twi","s":"Observation","x":6,"d":0.04},
      {"v":"twi","s":"Observation","x":6.25,"d":0.07},
      {"v":"twi","s":"Observation","x":6.5,"d":0.112},
      {"v":"twi","s":"Observation","x":6.75,"d":0.165},
      {"v":"twi","s":"Observation","x":7,"d":0.205},
      {"v":"twi","s":"Observation","x":7.25,"d":0.22},
      {"v":"twi","s":"Observation","x":7.5,"d":0.222},
      {"v":"twi","s":"Observation","x":7.75,"d":0.222},
      {"v":"twi","s":"Observation","x":8,"d":0.225},
      {"v":"twi","s":"Observation","x":8.25,"d":0.228},
      {"v":"twi","s":"Observation","x":8.5,"d":0.225},
      {"v":"twi","s":"Observation","x":8.75,"d":0.215},
      {"v":"twi","s":"Observation","x":9,"d":0.205},
      {"v":"twi","s":"Observation","x":9.25,"d":0.195},
      {"v":"twi","s":"Observation","x":9.5,"d":0.182},
      {"v":"twi","s":"Observation","x":9.75,"d":0.172},
      {"v":"twi","s":"Observation","x":10,"d":0.16},
      {"v":"twi","s":"Observation","x":10.25,"d":0.145},
      {"v":"twi","s":"Observation","x":10.5,"d":0.125},
      {"v":"twi","s":"Observation","x":10.75,"d":0.1},
      {"v":"twi","s":"Observation","x":11,"d":0.077},
      {"v":"twi","s":"Observation","x":11.5,"d":0.045},
      {"v":"twi","s":"Observation","x":12,"d":0.027},
      {"v":"twi","s":"Observation","x":12.5,"d":0.022},
      {"v":"twi","s":"Observation","x":13,"d":0.018},
      {"v":"twi","s":"Observation","x":13.5,"d":0.013},
      {"v":"twi","s":"Observation","x":14,"d":0.009},
      {"v":"twi","s":"Observation","x":14.5,"d":0.008},
      {"v":"twi","s":"Observation","x":15,"d":0.009},
      {"v":"twi","s":"Observation","x":15.5,"d":0.005},
      {"v":"twi","s":"Observation","x":16,"d":0.003},
      {"v":"twi","s":"Observation","x":16.5,"d":0.002},
      {"v":"twi","s":"Observation","x":17,"d":0.001},
      {"v":"twi","s":"Observation","x":17.55,"d":0.0005},
      {"v":"twi","s":"TabPFN","x":5.25,"d":0.004},
      {"v":"twi","s":"TabPFN","x":5.5,"d":0.008},
      {"v":"twi","s":"TabPFN","x":5.75,"d":0.016},
      {"v":"twi","s":"TabPFN","x":6,"d":0.035},
      {"v":"twi","s":"TabPFN","x":6.25,"d":0.07},
      {"v":"twi","s":"TabPFN","x":6.5,"d":0.12},
      {"v":"twi","s":"TabPFN","x":6.75,"d":0.175},
      {"v":"twi","s":"TabPFN","x":7,"d":0.215},
      {"v":"twi","s":"TabPFN","x":7.25,"d":0.23},
      {"v":"twi","s":"TabPFN","x":7.5,"d":0.232},
      {"v":"twi","s":"TabPFN","x":7.75,"d":0.228},
      {"v":"twi","s":"TabPFN","x":8,"d":0.225},
      {"v":"twi","s":"TabPFN","x":8.25,"d":0.226},
      {"v":"twi","s":"TabPFN","x":8.5,"d":0.222},
      {"v":"twi","s":"TabPFN","x":8.75,"d":0.212},
      {"v":"twi","s":"TabPFN","x":9,"d":0.2},
      {"v":"twi","s":"TabPFN","x":9.25,"d":0.19},
      {"v":"twi","s":"TabPFN","x":9.5,"d":0.178},
      {"v":"twi","s":"TabPFN","x":9.75,"d":0.168},
      {"v":"twi","s":"TabPFN","x":10,"d":0.157},
      {"v":"twi","s":"TabPFN","x":10.25,"d":0.143},
      {"v":"twi","s":"TabPFN","x":10.5,"d":0.126},
      {"v":"twi","s":"TabPFN","x":10.75,"d":0.105},
      {"v":"twi","s":"TabPFN","x":11,"d":0.083},
      {"v":"twi","s":"TabPFN","x":11.5,"d":0.05},
      {"v":"twi","s":"TabPFN","x":12,"d":0.028},
      {"v":"twi","s":"TabPFN","x":12.5,"d":0.017},
      {"v":"twi","s":"TabPFN","x":13,"d":0.01},
      {"v":"twi","s":"TabPFN","x":13.5,"d":0.006},
      {"v":"twi","s":"TabPFN","x":14,"d":0.004},
      {"v":"twi","s":"TabPFN","x":14.5,"d":0.003},
      {"v":"twi","s":"TabPFN","x":15,"d":0.002},
      {"v":"twi","s":"TabPFN","x":15.5,"d":0.0015},
      {"v":"twi","s":"TabPFN","x":16,"d":0.001},
      {"v":"twi","s":"TabPFN","x":16.5,"d":0.0005},
      {"v":"twi","s":"TabPFN","x":17,"d":0.0003},
      {"v":"twi","s":"TabPFN","x":17.55,"d":0.0001},
      {"v":"twi","s":"SMOTE","x":5.25,"d":0.002},
      {"v":"twi","s":"SMOTE","x":5.5,"d":0.003},
      {"v":"twi","s":"SMOTE","x":5.75,"d":0.006},
      {"v":"twi","s":"SMOTE","x":6,"d":0.012},
      {"v":"twi","s":"SMOTE","x":6.25,"d":0.025},
      {"v":"twi","s":"SMOTE","x":6.5,"d":0.055},
      {"v":"twi","s":"SMOTE","x":6.75,"d":0.11},
      {"v":"twi","s":"SMOTE","x":7,"d":0.175},
      {"v":"twi","s":"SMOTE","x":7.25,"d":0.215},
      {"v":"twi","s":"SMOTE","x":7.5,"d":0.235},
      {"v":"twi","s":"SMOTE","x":7.75,"d":0.245},
      {"v":"twi","s":"SMOTE","x":8,"d":0.255},
      {"v":"twi","s":"SMOTE","x":8.25,"d":0.265},
      {"v":"twi","s":"SMOTE","x":8.5,"d":0.275},
      {"v":"twi","s":"SMOTE","x":8.75,"d":0.272},
      {"v":"twi","s":"SMOTE","x":9,"d":0.25},
      {"v":"twi","s":"SMOTE","x":9.25,"d":0.22},
      {"v":"twi","s":"SMOTE","x":9.5,"d":0.2},
      {"v":"twi","s":"SMOTE","x":9.75,"d":0.188},
      {"v":"twi","s":"SMOTE","x":10,"d":0.172},
      {"v":"twi","s":"SMOTE","x":10.25,"d":0.155},
      {"v":"twi","s":"SMOTE","x":10.5,"d":0.13},
      {"v":"twi","s":"SMOTE","x":10.75,"d":0.1},
      {"v":"twi","s":"SMOTE","x":11,"d":0.075},
      {"v":"twi","s":"SMOTE","x":11.5,"d":0.04},
      {"v":"twi","s":"SMOTE","x":12,"d":0.02},
      {"v":"twi","s":"SMOTE","x":12.5,"d":0.01},
      {"v":"twi","s":"SMOTE","x":13,"d":0.007},
      {"v":"twi","s":"SMOTE","x":13.5,"d":0.005},
      {"v":"twi","s":"SMOTE","x":14,"d":0.004},
      {"v":"twi","s":"SMOTE","x":14.5,"d":0.004},
      {"v":"twi","s":"SMOTE","x":15,"d":0.005},
      {"v":"twi","s":"SMOTE","x":15.5,"d":0.003},
      {"v":"twi","s":"SMOTE","x":16,"d":0.002},
      {"v":"twi","s":"SMOTE","x":16.5,"d":0.001},
      {"v":"twi","s":"SMOTE","x":17,"d":0.0005},
      {"v":"twi","s":"SMOTE","x":17.55,"d":0.0002},
      {"v":"twi","s":"CTGAN","x":5.25,"d":0.006},
      {"v":"twi","s":"CTGAN","x":5.5,"d":0.015},
      {"v":"twi","s":"CTGAN","x":5.75,"d":0.03},
      {"v":"twi","s":"CTGAN","x":6,"d":0.055},
      {"v":"twi","s":"CTGAN","x":6.25,"d":0.09},
      {"v":"twi","s":"CTGAN","x":6.5,"d":0.125},
      {"v":"twi","s":"CTGAN","x":6.75,"d":0.16},
      {"v":"twi","s":"CTGAN","x":7,"d":0.175},
      {"v":"twi","s":"CTGAN","x":7.25,"d":0.178},
      {"v":"twi","s":"CTGAN","x":7.5,"d":0.178},
      {"v":"twi","s":"CTGAN","x":7.75,"d":0.185},
      {"v":"twi","s":"CTGAN","x":8,"d":0.2},
      {"v":"twi","s":"CTGAN","x":8.25,"d":0.22},
      {"v":"twi","s":"CTGAN","x":8.5,"d":0.235},
      {"v":"twi","s":"CTGAN","x":8.75,"d":0.241},
      {"v":"twi","s":"CTGAN","x":9,"d":0.235},
      {"v":"twi","s":"CTGAN","x":9.25,"d":0.222},
      {"v":"twi","s":"CTGAN","x":9.5,"d":0.205},
      {"v":"twi","s":"CTGAN","x":9.75,"d":0.19},
      {"v":"twi","s":"CTGAN","x":10,"d":0.172},
      {"v":"twi","s":"CTGAN","x":10.25,"d":0.152},
      {"v":"twi","s":"CTGAN","x":10.5,"d":0.132},
      {"v":"twi","s":"CTGAN","x":10.75,"d":0.11},
      {"v":"twi","s":"CTGAN","x":11,"d":0.088},
      {"v":"twi","s":"CTGAN","x":11.5,"d":0.05},
      {"v":"twi","s":"CTGAN","x":12,"d":0.025},
      {"v":"twi","s":"CTGAN","x":12.5,"d":0.012},
      {"v":"twi","s":"CTGAN","x":13,"d":0.006},
      {"v":"twi","s":"CTGAN","x":13.5,"d":0.004},
      {"v":"twi","s":"CTGAN","x":14,"d":0.003},
      {"v":"twi","s":"CTGAN","x":14.5,"d":0.002},
      {"v":"twi","s":"CTGAN","x":15,"d":0.002},
      {"v":"twi","s":"CTGAN","x":15.5,"d":0.0015},
      {"v":"twi","s":"CTGAN","x":16,"d":0.001},
      {"v":"twi","s":"CTGAN","x":16.5,"d":0.001},
      {"v":"twi","s":"CTGAN","x":17,"d":0.0005},
      {"v":"twi","s":"CTGAN","x":17.55,"d":0.0002},
      {"v":"twi","s":"Monte Carlo","x":5.25,"d":0.008},
      {"v":"twi","s":"Monte Carlo","x":5.5,"d":0.014},
      {"v":"twi","s":"Monte Carlo","x":5.75,"d":0.025},
      {"v":"twi","s":"Monte Carlo","x":6,"d":0.04},
      {"v":"twi","s":"Monte Carlo","x":6.25,"d":0.065},
      {"v":"twi","s":"Monte Carlo","x":6.5,"d":0.1},
      {"v":"twi","s":"Monte Carlo","x":6.75,"d":0.145},
      {"v":"twi","s":"Monte Carlo","x":7,"d":0.19},
      {"v":"twi","s":"Monte Carlo","x":7.25,"d":0.22},
      {"v":"twi","s":"Monte Carlo","x":7.5,"d":0.232},
      {"v":"twi","s":"Monte Carlo","x":7.75,"d":0.236},
      {"v":"twi","s":"Monte Carlo","x":8,"d":0.233},
      {"v":"twi","s":"Monte Carlo","x":8.25,"d":0.228},
      {"v":"twi","s":"Monte Carlo","x":8.5,"d":0.222},
      {"v":"twi","s":"Monte Carlo","x":8.75,"d":0.213},
      {"v":"twi","s":"Monte Carlo","x":9,"d":0.203},
      {"v":"twi","s":"Monte Carlo","x":9.25,"d":0.193},
      {"v":"twi","s":"Monte Carlo","x":9.5,"d":0.182},
      {"v":"twi","s":"Monte Carlo","x":9.75,"d":0.172},
      {"v":"twi","s":"Monte Carlo","x":10,"d":0.16},
      {"v":"twi","s":"Monte Carlo","x":10.25,"d":0.145},
      {"v":"twi","s":"Monte Carlo","x":10.5,"d":0.125},
      {"v":"twi","s":"Monte Carlo","x":10.75,"d":0.102},
      {"v":"twi","s":"Monte Carlo","x":11,"d":0.08},
      {"v":"twi","s":"Monte Carlo","x":11.5,"d":0.046},
      {"v":"twi","s":"Monte Carlo","x":12,"d":0.03},
      {"v":"twi","s":"Monte Carlo","x":12.5,"d":0.024},
      {"v":"twi","s":"Monte Carlo","x":13,"d":0.02},
      {"v":"twi","s":"Monte Carlo","x":13.5,"d":0.014},
      {"v":"twi","s":"Monte Carlo","x":14,"d":0.01},
      {"v":"twi","s":"Monte Carlo","x":14.5,"d":0.008},
      {"v":"twi","s":"Monte Carlo","x":15,"d":0.007},
      {"v":"twi","s":"Monte Carlo","x":15.5,"d":0.005},
      {"v":"twi","s":"Monte Carlo","x":16,"d":0.004},
      {"v":"twi","s":"Monte Carlo","x":16.5,"d":0.003},
      {"v":"twi","s":"Monte Carlo","x":17,"d":0.002},
      {"v":"twi","s":"Monte Carlo","x":17.55,"d":0.0005}
    ]
  },
  "config": {
    "font": "Liberation Sans",
    "view": {"stroke": "#d4d4d4", "strokeWidth": 1},
    "axis": {"domain": false, "ticks": false, "grid": true, "gridColor": "#e6e6e6", "gridWidth": 1, "labelFont": "Liberation Sans", "labelFontSize": 15, "labelColor": "#262626", "labelPadding": 3, "titleFont": "Liberation Sans", "titleFontSize": 17, "titleFontWeight": "normal", "titleColor": "#262626", "titlePadding": 0},
    "axisX": {"labelPadding": 3, "titlePadding": 1, "labelFlush": false, "labelOverlap": false},
    "legend": {"orient": "top-right", "offset": 7, "padding": 5, "fillColor": "rgba(255,255,255,0.8)", "strokeColor": "#d9d9d9", "cornerRadius": 4, "labelFont": "Liberation Sans", "labelFontSize": 15, "labelColor": "#262626", "symbolType": "M-1,-1H5V1H-1Z", "symbolSize": 100, "symbolOpacity": 0.32, "symbolStrokeWidth": 0, "labelOffset": 25, "rowPadding": 7}
  },
  "spacing": 9.5,
  "resolve": {"scale": {"fill": "independent", "stroke": "independent"}, "legend": {"fill": "independent", "stroke": "independent"}},
  "hconcat": [
    {
      "spacing": 13.7,
      "bounds": "flush",
      "resolve": {"scale": {"fill": "independent", "stroke": "independent"}, "legend": {"fill": "independent", "stroke": "independent"}},
      "vconcat": [
        {"width": 260, "height": 162, "layer": [
          {"data": {"name": "bins"}, "transform": [{"filter": "datum.v === 'curv' && (datum.s === 'Observation' || datum.s === 'TabPFN')"}],
           "mark": {"type": "rect", "fillOpacity": 0.32, "stroke": "#4d4d4d", "strokeOpacity": 0.3, "strokeWidth": 0.8, "clip": true},
           "encoding": {
             "x": {"field": "a", "type": "quantitative", "scale": {"domain": [-0.0298, 0.0339], "nice": false, "zero": false}, "axis": {"title": null, "labels": false, "values": [-0.02, -0.01, 0, 0.01, 0.02, 0.03]}},
             "x2": {"field": "b"},
             "y": {"field": "d", "type": "quantitative", "scale": {"domain": [0, 274], "nice": false}, "axis": {"title": "Density", "values": [0, 100, 200]}},
             "y2": {"datum": 0},
             "fill": {"field": "s", "type": "nominal", "scale": {"domain": ["Observation", "TabPFN"], "range": ["#ff7f0e", "#1f77b4"]}, "legend": {"title": null}}}},
          {"data": {"name": "kde"}, "transform": [{"filter": "datum.v === 'curv' && (datum.s === 'Observation' || datum.s === 'TabPFN')"}],
           "mark": {"type": "line", "strokeWidth": 1.7, "clip": true},
           "encoding": {"x": {"field": "x", "type": "quantitative"}, "y": {"field": "d", "type": "quantitative"},
             "stroke": {"field": "s", "type": "nominal", "scale": {"domain": ["Observation", "TabPFN"], "range": ["#ff7f0e", "#1f77b4"]}, "legend": null}}}
        ]},
        {"width": 260, "height": 162, "layer": [
          {"data": {"name": "bins"}, "transform": [{"filter": "datum.v === 'curv' && (datum.s === 'Observation' || datum.s === 'SMOTE')"}],
           "mark": {"type": "rect", "fillOpacity": 0.32, "stroke": "#4d4d4d", "strokeOpacity": 0.3, "strokeWidth": 0.8, "clip": true},
           "encoding": {
             "x": {"field": "a", "type": "quantitative", "scale": {"domain": [-0.0298, 0.0339], "nice": false, "zero": false}, "axis": {"title": null, "labels": false, "values": [-0.02, -0.01, 0, 0.01, 0.02, 0.03]}},
             "x2": {"field": "b"},
             "y": {"field": "d", "type": "quantitative", "scale": {"domain": [0, 274], "nice": false}, "axis": {"title": "Density", "values": [0, 100, 200]}},
             "y2": {"datum": 0},
             "fill": {"field": "s", "type": "nominal", "scale": {"domain": ["Observation", "SMOTE"], "range": ["#ff7f0e", "#9467bd"]}, "legend": {"title": null}}}},
          {"data": {"name": "kde"}, "transform": [{"filter": "datum.v === 'curv' && (datum.s === 'Observation' || datum.s === 'SMOTE')"}],
           "mark": {"type": "line", "strokeWidth": 1.7, "clip": true},
           "encoding": {"x": {"field": "x", "type": "quantitative"}, "y": {"field": "d", "type": "quantitative"},
             "stroke": {"field": "s", "type": "nominal", "scale": {"domain": ["Observation", "SMOTE"], "range": ["#ff7f0e", "#9467bd"]}, "legend": null}}}
        ]},
        {"width": 260, "height": 162, "layer": [
          {"data": {"name": "bins"}, "transform": [{"filter": "datum.v === 'curv' && (datum.s === 'Observation' || datum.s === 'CTGAN')"}],
           "mark": {"type": "rect", "fillOpacity": 0.32, "stroke": "#4d4d4d", "strokeOpacity": 0.3, "strokeWidth": 0.8, "clip": true},
           "encoding": {
             "x": {"field": "a", "type": "quantitative", "scale": {"domain": [-0.0298, 0.0339], "nice": false, "zero": false}, "axis": {"title": null, "labels": false, "values": [-0.02, -0.01, 0, 0.01, 0.02, 0.03]}},
             "x2": {"field": "b"},
             "y": {"field": "d", "type": "quantitative", "scale": {"domain": [0, 274], "nice": false}, "axis": {"title": "Density", "values": [0, 100, 200]}},
             "y2": {"datum": 0},
             "fill": {"field": "s", "type": "nominal", "scale": {"domain": ["Observation", "CTGAN"], "range": ["#ff7f0e", "#2ca02c"]}, "legend": {"title": null}}}},
          {"data": {"name": "kde"}, "transform": [{"filter": "datum.v === 'curv' && (datum.s === 'Observation' || datum.s === 'CTGAN')"}],
           "mark": {"type": "line", "strokeWidth": 1.7, "clip": true},
           "encoding": {"x": {"field": "x", "type": "quantitative"}, "y": {"field": "d", "type": "quantitative"},
             "stroke": {"field": "s", "type": "nominal", "scale": {"domain": ["Observation", "CTGAN"], "range": ["#ff7f0e", "#2ca02c"]}, "legend": null}}}
        ]},
        {"width": 260, "height": 162, "layer": [
          {"data": {"name": "bins"}, "transform": [{"filter": "datum.v === 'curv' && (datum.s === 'Observation' || datum.s === 'Monte Carlo')"}],
           "mark": {"type": "rect", "fillOpacity": 0.32, "stroke": "#4d4d4d", "strokeOpacity": 0.3, "strokeWidth": 0.8, "clip": true},
           "encoding": {
             "x": {"field": "a", "type": "quantitative", "scale": {"domain": [-0.0298, 0.0339], "nice": false, "zero": false}, "axis": {"title": "Profil_curvature", "format": ".2f", "values": [-0.02, -0.01, 0, 0.01, 0.02, 0.03]}},
             "x2": {"field": "b"},
             "y": {"field": "d", "type": "quantitative", "scale": {"domain": [0, 274], "nice": false}, "axis": {"title": "Density", "values": [0, 100, 200]}},
             "y2": {"datum": 0},
             "fill": {"field": "s", "type": "nominal", "scale": {"domain": ["Observation", "Monte Carlo"], "range": ["#ff7f0e", "#17becf"]}, "legend": {"title": null}}}},
          {"data": {"name": "kde"}, "transform": [{"filter": "datum.v === 'curv' && (datum.s === 'Observation' || datum.s === 'Monte Carlo')"}],
           "mark": {"type": "line", "strokeWidth": 1.7, "clip": true},
           "encoding": {"x": {"field": "x", "type": "quantitative"}, "y": {"field": "d", "type": "quantitative"},
             "stroke": {"field": "s", "type": "nominal", "scale": {"domain": ["Observation", "Monte Carlo"], "range": ["#ff7f0e", "#17becf"]}, "legend": null}}}
        ]}
      ]
    },
    {
      "spacing": -3.5,
      "resolve": {"scale": {"fill": "independent", "stroke": "independent"}, "legend": {"fill": "independent", "stroke": "independent"}},
      "hconcat": [
        {
          "spacing": 13.7,
          "bounds": "flush",
          "resolve": {"scale": {"fill": "independent", "stroke": "independent"}, "legend": {"fill": "independent", "stroke": "independent"}},
          "vconcat": [
            {"width": 235, "height": 162, "layer": [
              {"data": {"name": "bins"}, "transform": [{"filter": "datum.v === 'road' && (datum.s === 'Observation' || datum.s === 'TabPFN')"}],
               "mark": {"type": "rect", "fillOpacity": 0.32, "stroke": "#4d4d4d", "strokeOpacity": 0.3, "strokeWidth": 0.8, "clip": true},
               "encoding": {
                 "x": {"field": "a", "type": "quantitative", "scale": {"domain": [-80, 1024], "nice": false, "zero": false}, "axis": {"title": null, "labels": false, "values": [0, 200, 400, 600, 800, 1000]}},
                 "x2": {"field": "b"},
                 "y": {"field": "d", "type": "quantitative", "scale": {"domain": [0, 0.01465], "nice": false}, "axis": {"title": "Density", "format": ".3f", "values": [0, 0.005, 0.01]}},
                 "y2": {"datum": 0},
                 "fill": {"field": "s", "type": "nominal", "scale": {"domain": ["Observation", "TabPFN"], "range": ["#ff7f0e", "#1f77b4"]}, "legend": {"title": null}}}},
              {"data": {"name": "kde"}, "transform": [{"filter": "datum.v === 'road' && (datum.s === 'Observation' || datum.s === 'TabPFN')"}],
               "mark": {"type": "line", "strokeWidth": 1.7, "clip": true},
               "encoding": {"x": {"field": "x", "type": "quantitative"}, "y": {"field": "d", "type": "quantitative"},
                 "stroke": {"field": "s", "type": "nominal", "scale": {"domain": ["Observation", "TabPFN"], "range": ["#ff7f0e", "#1f77b4"]}, "legend": null}}}
            ]},
            {"width": 235, "height": 162, "layer": [
              {"data": {"name": "bins"}, "transform": [{"filter": "datum.v === 'road' && (datum.s === 'Observation' || datum.s === 'SMOTE')"}],
               "mark": {"type": "rect", "fillOpacity": 0.32, "stroke": "#4d4d4d", "strokeOpacity": 0.3, "strokeWidth": 0.8, "clip": true},
               "encoding": {
                 "x": {"field": "a", "type": "quantitative", "scale": {"domain": [-80, 1024], "nice": false, "zero": false}, "axis": {"title": null, "labels": false, "values": [0, 200, 400, 600, 800, 1000]}},
                 "x2": {"field": "b"},
                 "y": {"field": "d", "type": "quantitative", "scale": {"domain": [0, 0.01465], "nice": false}, "axis": {"title": "Density", "format": ".3f", "values": [0, 0.005, 0.01]}},
                 "y2": {"datum": 0},
                 "fill": {"field": "s", "type": "nominal", "scale": {"domain": ["Observation", "SMOTE"], "range": ["#ff7f0e", "#9467bd"]}, "legend": {"title": null}}}},
              {"data": {"name": "kde"}, "transform": [{"filter": "datum.v === 'road' && (datum.s === 'Observation' || datum.s === 'SMOTE')"}],
               "mark": {"type": "line", "strokeWidth": 1.7, "clip": true},
               "encoding": {"x": {"field": "x", "type": "quantitative"}, "y": {"field": "d", "type": "quantitative"},
                 "stroke": {"field": "s", "type": "nominal", "scale": {"domain": ["Observation", "SMOTE"], "range": ["#ff7f0e", "#9467bd"]}, "legend": null}}}
            ]},
            {"width": 235, "height": 162, "layer": [
              {"data": {"name": "bins"}, "transform": [{"filter": "datum.v === 'road' && (datum.s === 'Observation' || datum.s === 'CTGAN')"}],
               "mark": {"type": "rect", "fillOpacity": 0.32, "stroke": "#4d4d4d", "strokeOpacity": 0.3, "strokeWidth": 0.8, "clip": true},
               "encoding": {
                 "x": {"field": "a", "type": "quantitative", "scale": {"domain": [-80, 1024], "nice": false, "zero": false}, "axis": {"title": null, "labels": false, "values": [0, 200, 400, 600, 800, 1000]}},
                 "x2": {"field": "b"},
                 "y": {"field": "d", "type": "quantitative", "scale": {"domain": [0, 0.01465], "nice": false}, "axis": {"title": "Density", "format": ".3f", "values": [0, 0.005, 0.01]}},
                 "y2": {"datum": 0},
                 "fill": {"field": "s", "type": "nominal", "scale": {"domain": ["Observation", "CTGAN"], "range": ["#ff7f0e", "#2ca02c"]}, "legend": {"title": null}}}},
              {"data": {"name": "kde"}, "transform": [{"filter": "datum.v === 'road' && (datum.s === 'Observation' || datum.s === 'CTGAN')"}],
               "mark": {"type": "line", "strokeWidth": 1.7, "clip": true},
               "encoding": {"x": {"field": "x", "type": "quantitative"}, "y": {"field": "d", "type": "quantitative"},
                 "stroke": {"field": "s", "type": "nominal", "scale": {"domain": ["Observation", "CTGAN"], "range": ["#ff7f0e", "#2ca02c"]}, "legend": null}}}
            ]},
            {"width": 235, "height": 162, "layer": [
              {"data": {"name": "bins"}, "transform": [{"filter": "datum.v === 'road' && (datum.s === 'Observation' || datum.s === 'Monte Carlo')"}],
               "mark": {"type": "rect", "fillOpacity": 0.32, "stroke": "#4d4d4d", "strokeOpacity": 0.3, "strokeWidth": 0.8, "clip": true},
               "encoding": {
                 "x": {"field": "a", "type": "quantitative", "scale": {"domain": [-80, 1024], "nice": false, "zero": false}, "axis": {"title": "Dist_roads", "format": "d", "values": [0, 200, 400, 600, 800, 1000]}},
                 "x2": {"field": "b"},
                 "y": {"field": "d", "type": "quantitative", "scale": {"domain": [0, 0.01465], "nice": false}, "axis": {"title": "Density", "format": ".3f", "values": [0, 0.005, 0.01]}},
                 "y2": {"datum": 0},
                 "fill": {"field": "s", "type": "nominal", "scale": {"domain": ["Observation", "Monte Carlo"], "range": ["#ff7f0e", "#17becf"]}, "legend": {"title": null}}}},
              {"data": {"name": "kde"}, "transform": [{"filter": "datum.v === 'road' && (datum.s === 'Observation' || datum.s === 'Monte Carlo')"}],
               "mark": {"type": "line", "strokeWidth": 1.7, "clip": true},
               "encoding": {"x": {"field": "x", "type": "quantitative"}, "y": {"field": "d", "type": "quantitative"},
                 "stroke": {"field": "s", "type": "nominal", "scale": {"domain": ["Observation", "Monte Carlo"], "range": ["#ff7f0e", "#17becf"]}, "legend": null}}}
            ]}
          ]
        },
        {
          "spacing": 13.7,
          "bounds": "flush",
          "resolve": {"scale": {"fill": "independent", "stroke": "independent"}, "legend": {"fill": "independent", "stroke": "independent"}},
          "vconcat": [
            {"width": 253, "height": 162, "layer": [
              {"data": {"name": "bins"}, "transform": [{"filter": "datum.v === 'twi' && (datum.s === 'Observation' || datum.s === 'TabPFN')"}],
               "mark": {"type": "rect", "fillOpacity": 0.32, "stroke": "#4d4d4d", "strokeOpacity": 0.3, "strokeWidth": 0.8, "clip": true},
               "encoding": {
                 "x": {"field": "a", "type": "quantitative", "scale": {"domain": [5.25, 17.55], "nice": false, "zero": false}, "axis": {"title": null, "labels": false, "values": [7.5, 10, 12.5, 15, 17.5]}},
                 "x2": {"field": "b"},
                 "y": {"field": "d", "type": "quantitative", "scale": {"domain": [0, 0.377], "nice": false}, "axis": {"title": "Density", "format": ".1f", "values": [0, 0.1, 0.2, 0.3]}},
                 "y2": {"datum": 0},
                 "fill": {"field": "s", "type": "nominal", "scale": {"domain": ["Observation", "TabPFN"], "range": ["#ff7f0e", "#1f77b4"]}, "legend": {"title": null}}}},
              {"data": {"name": "kde"}, "transform": [{"filter": "datum.v === 'twi' && (datum.s === 'Observation' || datum.s === 'TabPFN')"}],
               "mark": {"type": "line", "strokeWidth": 1.7, "clip": true},
               "encoding": {"x": {"field": "x", "type": "quantitative"}, "y": {"field": "d", "type": "quantitative"},
                 "stroke": {"field": "s", "type": "nominal", "scale": {"domain": ["Observation", "TabPFN"], "range": ["#ff7f0e", "#1f77b4"]}, "legend": null}}}
            ]},
            {"width": 253, "height": 162, "layer": [
              {"data": {"name": "bins"}, "transform": [{"filter": "datum.v === 'twi' && (datum.s === 'Observation' || datum.s === 'SMOTE')"}],
               "mark": {"type": "rect", "fillOpacity": 0.32, "stroke": "#4d4d4d", "strokeOpacity": 0.3, "strokeWidth": 0.8, "clip": true},
               "encoding": {
                 "x": {"field": "a", "type": "quantitative", "scale": {"domain": [5.25, 17.55], "nice": false, "zero": false}, "axis": {"title": null, "labels": false, "values": [7.5, 10, 12.5, 15, 17.5]}},
                 "x2": {"field": "b"},
                 "y": {"field": "d", "type": "quantitative", "scale": {"domain": [0, 0.377], "nice": false}, "axis": {"title": "Density", "format": ".1f", "values": [0, 0.1, 0.2, 0.3]}},
                 "y2": {"datum": 0},
                 "fill": {"field": "s", "type": "nominal", "scale": {"domain": ["Observation", "SMOTE"], "range": ["#ff7f0e", "#9467bd"]}, "legend": {"title": null}}}},
              {"data": {"name": "kde"}, "transform": [{"filter": "datum.v === 'twi' && (datum.s === 'Observation' || datum.s === 'SMOTE')"}],
               "mark": {"type": "line", "strokeWidth": 1.7, "clip": true},
               "encoding": {"x": {"field": "x", "type": "quantitative"}, "y": {"field": "d", "type": "quantitative"},
                 "stroke": {"field": "s", "type": "nominal", "scale": {"domain": ["Observation", "SMOTE"], "range": ["#ff7f0e", "#9467bd"]}, "legend": null}}}
            ]},
            {"width": 253, "height": 162, "layer": [
              {"data": {"name": "bins"}, "transform": [{"filter": "datum.v === 'twi' && (datum.s === 'Observation' || datum.s === 'CTGAN')"}],
               "mark": {"type": "rect", "fillOpacity": 0.32, "stroke": "#4d4d4d", "strokeOpacity": 0.3, "strokeWidth": 0.8, "clip": true},
               "encoding": {
                 "x": {"field": "a", "type": "quantitative", "scale": {"domain": [5.25, 17.55], "nice": false, "zero": false}, "axis": {"title": null, "labels": false, "values": [7.5, 10, 12.5, 15, 17.5]}},
                 "x2": {"field": "b"},
                 "y": {"field": "d", "type": "quantitative", "scale": {"domain": [0, 0.377], "nice": false}, "axis": {"title": "Density", "format": ".1f", "values": [0, 0.1, 0.2, 0.3]}},
                 "y2": {"datum": 0},
                 "fill": {"field": "s", "type": "nominal", "scale": {"domain": ["Observation", "CTGAN"], "range": ["#ff7f0e", "#2ca02c"]}, "legend": {"title": null}}}},
              {"data": {"name": "kde"}, "transform": [{"filter": "datum.v === 'twi' && (datum.s === 'Observation' || datum.s === 'CTGAN')"}],
               "mark": {"type": "line", "strokeWidth": 1.7, "clip": true},
               "encoding": {"x": {"field": "x", "type": "quantitative"}, "y": {"field": "d", "type": "quantitative"},
                 "stroke": {"field": "s", "type": "nominal", "scale": {"domain": ["Observation", "CTGAN"], "range": ["#ff7f0e", "#2ca02c"]}, "legend": null}}}
            ]},
            {"width": 253, "height": 162, "layer": [
              {"data": {"name": "bins"}, "transform": [{"filter": "datum.v === 'twi' && (datum.s === 'Observation' || datum.s === 'Monte Carlo')"}],
               "mark": {"type": "rect", "fillOpacity": 0.32, "stroke": "#4d4d4d", "strokeOpacity": 0.3, "strokeWidth": 0.8, "clip": true},
               "encoding": {
                 "x": {"field": "a", "type": "quantitative", "scale": {"domain": [5.25, 17.55], "nice": false, "zero": false}, "axis": {"title": "TWI", "format": ".1f", "values": [7.5, 10, 12.5, 15, 17.5]}},
                 "x2": {"field": "b"},
                 "y": {"field": "d", "type": "quantitative", "scale": {"domain": [0, 0.377], "nice": false}, "axis": {"title": "Density", "format": ".1f", "values": [0, 0.1, 0.2, 0.3]}},
                 "y2": {"datum": 0},
                 "fill": {"field": "s", "type": "nominal", "scale": {"domain": ["Observation", "Monte Carlo"], "range": ["#ff7f0e", "#17becf"]}, "legend": {"title": null}}}},
              {"data": {"name": "kde"}, "transform": [{"filter": "datum.v === 'twi' && (datum.s === 'Observation' || datum.s === 'Monte Carlo')"}],
               "mark": {"type": "line", "strokeWidth": 1.7, "clip": true},
               "encoding": {"x": {"field": "x", "type": "quantitative"}, "y": {"field": "d", "type": "quantitative"},
                 "stroke": {"field": "s", "type": "nominal", "scale": {"domain": ["Observation", "Monte Carlo"], "range": ["#ff7f0e", "#17becf"]}, "legend": null}}}
            ]}
          ]
        }
      ]
    }
  ]
}
